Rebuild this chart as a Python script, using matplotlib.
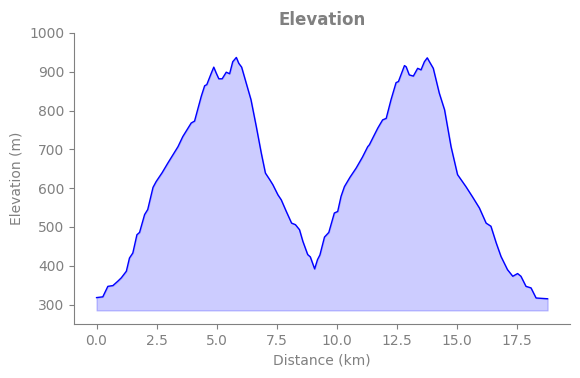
import numpy as np
import matplotlib
matplotlib.use("Agg")
import matplotlib.pyplot as plt

# distance (km) and elevation (m) read from the profile
distance = [0.0, 0.26, 0.47, 0.68, 0.88, 1.03, 1.24, 1.37, 1.51, 1.68, 1.79, 2.00,
            2.13, 2.35, 2.48, 2.73, 2.97, 3.19, 3.39, 3.59, 3.76, 3.94, 4.08, 4.36,
            4.50, 4.59, 4.78, 4.88, 4.98, 5.09, 5.23, 5.40, 5.54, 5.67, 5.82, 5.92,
            6.04, 6.23, 6.43, 6.65, 6.86, 7.03, 7.21, 7.34, 7.55, 7.69, 7.90, 8.12,
            8.28, 8.45, 8.59, 8.79, 8.90, 9.08, 9.20, 9.30, 9.49, 9.67, 9.90, 10.04,
            10.18, 10.32, 10.55, 10.81, 11.07, 11.29, 11.36, 11.53, 11.71, 11.91, 12.06,
            12.26, 12.47, 12.57, 12.82, 12.89, 13.02, 13.19, 13.37, 13.51, 13.65,
            13.77, 13.86, 14.02, 14.27, 14.49, 14.76, 15.03, 15.38, 15.65, 15.94,
            16.22, 16.42, 16.64, 16.84, 17.11, 17.33, 17.53, 17.67, 17.88, 18.09,
            18.30, 18.78]
elevation = [318, 320, 347, 349, 360, 369, 386, 420, 433, 480, 486, 532,
             545, 602, 617, 640, 665, 687, 707, 733, 750, 768, 773, 837,
             864, 867, 897, 912, 897, 882, 882, 899, 895, 926, 937, 922,
             912, 871, 828, 759, 690, 639, 622, 609, 583, 570, 540, 510,
             506, 493, 463, 429, 423, 392, 416, 428, 474, 486, 536, 540,
             579, 604, 628, 652, 680, 707, 712, 733, 755, 776, 780,
             828, 872, 875, 916, 913, 892, 889, 909, 905, 926,
             936, 926, 909, 845, 802, 707, 635, 604, 578, 549,
             510, 502, 459, 424, 390, 373, 380, 373, 347, 343,
             317, 315]

dist = np.array(distance)
elev = np.array(elevation)
base = elev.min() - 30

fig = plt.figure(figsize=(5.8, 3.78), dpi=100)
ax = fig.add_axes([0.1276, 0.1429, 0.8554, 0.7698])

ax.plot(dist, elev, color='blue', linewidth=1)
ax.fill_between(dist, elev, base, color='blue', alpha=0.2)

ax.set_ylim(250, 1000)
ax.set_title('Elevation', fontsize=12, fontweight='bold', color='gray')
ax.set_xlabel('Distance (km)', color='gray')
ax.set_ylabel('Elevation (m)', color='gray')

for side in ['top', 'right']:
    ax.spines[side].set_visible(False)
for side in ['left', 'bottom']:
    ax.spines[side].set_color('gray')
ax.tick_params(colors='gray')

fig.savefig('out.png', dpi=100)
